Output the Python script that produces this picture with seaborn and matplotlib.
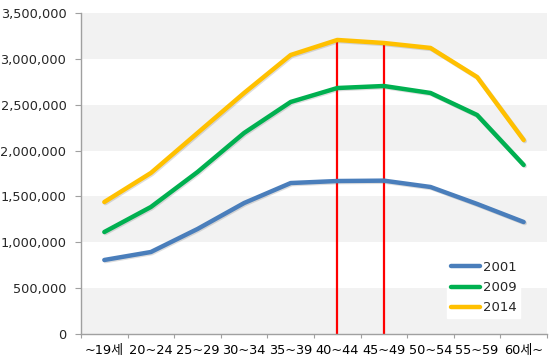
import matplotlib
matplotlib.use("Agg")
import matplotlib.pyplot as plt
import matplotlib.patheffects as pe
from matplotlib.ticker import FuncFormatter, FixedLocator
import seaborn as sns
import pandas as pd

categories = ["~19세", "20~24", "25~29", "30~34", "35~39",
              "40~44", "45~49", "50~54", "55~59", "60세~"]
years = ["2001", "2009", "2014"]
v2001 = [807000, 894000, 1145000, 1428000, 1646000, 1668000, 1672000, 1603000, 1418000, 1221000]
v2009 = [1112000, 1385000, 1766000, 2192000, 2530000, 2682000, 2704000, 2628000, 2388000, 1843000]
v2014 = [1439000, 1756000, 2192000, 2628000, 3042000, 3206000, 3173000, 3119000, 2802000, 2115000]
highlight = ["40~44", "45~49"]
colors = ["#4a7ebb", "#00b050", "#ffc000"]

rows = []
for yr, vals in zip(years, [v2001, v2009, v2014]):
    for c, v in zip(categories, vals):
        rows.append({"age": c, "value": v, "year": yr})
df = pd.DataFrame(rows)

sns.set_style("white")
plt.rcParams["font.family"] = ["DejaVu Sans", "Noto Sans CJK KR"]

fig = plt.figure(figsize=(5.5, 3.63), dpi=100)
ax = fig.add_axes([0.1473, 0.0799, 0.8472, 0.8843])

# alternating bands
for lo in [0, 1000000, 2000000, 3000000]:
    ax.axhspan(lo, lo + 500000, color="#f2f2f2", zorder=0, lw=0)

# red highlight lines
hx = [categories.index(h) for h in highlight]
hy = [v2014[i] for i in hx]
ax.vlines(hx, 0, hy, colors="#ff0000", lw=1.6, zorder=1)

sns.lineplot(data=df, x="age", y="value", hue="year", palette=colors,
             sort=False, lw=3.2, ax=ax, legend=True, zorder=3)
for line in ax.get_lines():
    line.set_solid_capstyle("round")
    line.set_solid_joinstyle("round")
    line.set_path_effects([pe.SimpleLineShadow(offset=(0.8, -0.8), alpha=0.2, shadow_color="#555555"),
                           pe.Normal()])

ax.set_xlim(-0.5, len(categories) - 0.5)
ax.set_ylim(0, 3500000)
ax.set_yticks(range(0, 3500001, 500000))
ax.yaxis.set_major_formatter(FuncFormatter(lambda v, p: f"{int(v):,}"))
ax.set_xticks(range(len(categories)))
ax.set_xticklabels(categories)
ax.xaxis.set_minor_locator(FixedLocator([i - 0.5 for i in range(len(categories) + 1)]))
ax.tick_params(axis="x", which="major", length=0, pad=7, labelsize=9.3, colors="#000000")
ax.tick_params(axis="x", which="minor", length=3, width=0.8, color="#a0a0a0", direction="out", bottom=True)
ax.tick_params(axis="y", which="major", length=4, width=0.8, color="#a0a0a0", direction="out",
               pad=6.5, labelsize=9.3, left=True)
ax.set_xlabel("")
ax.set_ylabel("")
for s in ["top", "right"]:
    ax.spines[s].set_visible(False)
for s in ["left", "bottom"]:
    ax.spines[s].set_color("#a0a0a0")
    ax.spines[s].set_linewidth(1.0)

handles, labels = ax.get_legend_handles_labels()
leg = ax.legend(handles, labels, loc="upper left", bbox_to_anchor=(447 / 550, 1 - 257 / 363),
                bbox_transform=fig.transFigure, frameon=True, fancybox=False,
                fontsize=9.5, handlelength=2.2, handletextpad=0.2, labelspacing=0.55,
                borderpad=0.3, borderaxespad=0)
leg.get_frame().set_facecolor("white")
leg.get_frame().set_edgecolor("white")
leg.get_frame().set_alpha(1)
for h in leg.get_lines():
    h.set_linewidth(3.2)
    h.set_solid_capstyle("round")
    h.set_path_effects([])

fig.savefig("out.png", dpi=100)
